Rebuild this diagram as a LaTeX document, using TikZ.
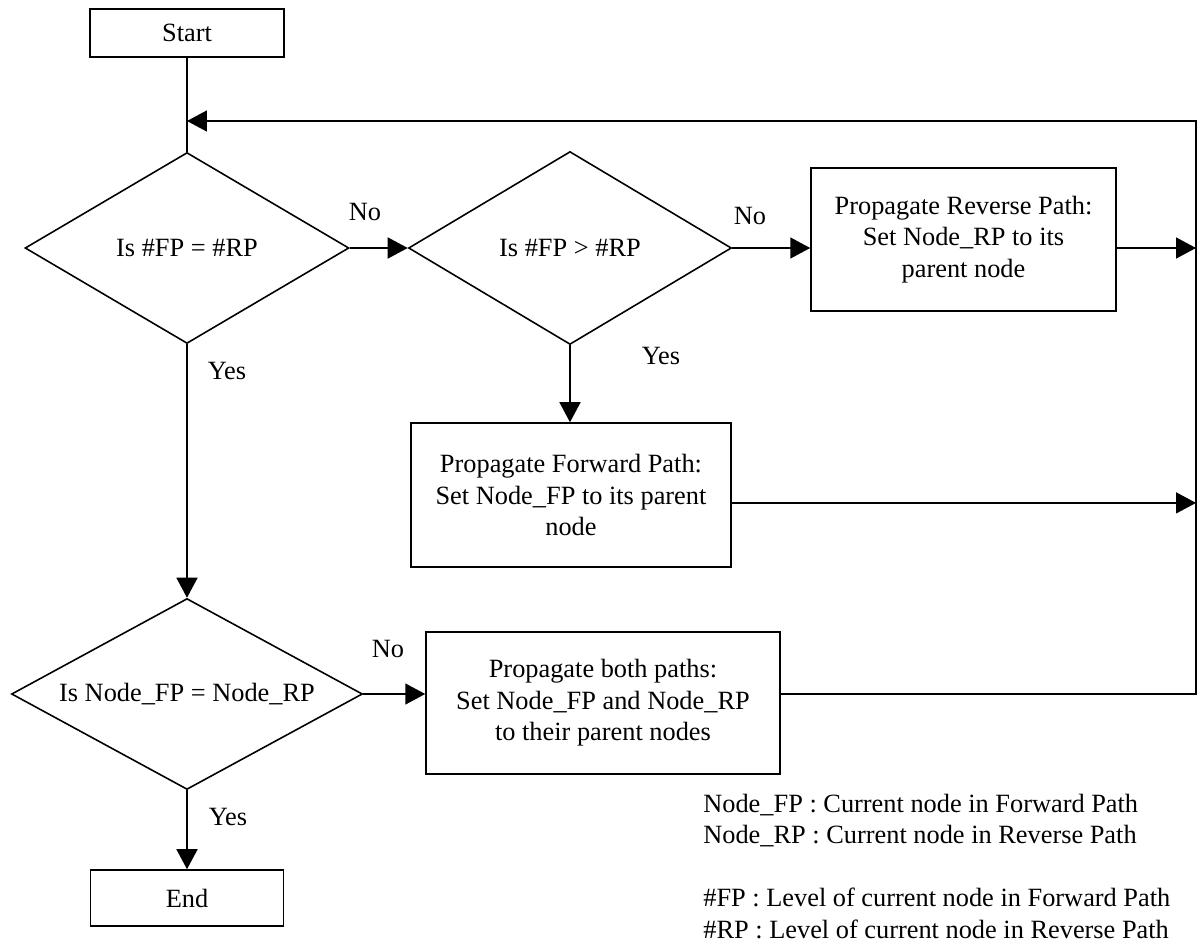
\documentclass[tikz,border=0pt]{standalone}
\usepackage{fontspec}
\setmainfont{Liberation Serif}
\usetikzlibrary{shapes.geometric, arrows.meta, positioning, calc}
\tikzset{
  blk/.style  = {rectangle, draw=black, line width=0.9pt, align=center,
                 inner sep=2pt},
  dec/.style  = {diamond, draw=black, line width=0.9pt, inner sep=0pt,
                 aspect=1},
  lbl/.style  = {inner sep=0pt},
  arr/.style  = {-{Triangle[length=0.4cm, width=0.42cm]}, line width=0.9pt},
  ln/.style   = {line width=0.9pt},
}

\begin{document}
\begin{tikzpicture}[x=0.02cm, y=-0.02cm,
    font=\fontsize{15}{17.9}\selectfont]

  \useasboundingbox (0,0) rectangle (1201,943);

  % -- main column
  \node[blk, minimum width=3.88cm, minimum height=0.96cm] (start) at (187,33)  {Start};
  \node[dec, minimum width=6.48cm, minimum height=3.82cm] (eqlvl) at (187,248)
       {\makebox[0pt]{Is \#FP = \#RP}};
  \node[dec, minimum width=7.02cm, minimum height=3.82cm] (eqnode) at (187,694)
       {\makebox[0pt]{Is Node\_FP = Node\_RP}};
  \node[blk, minimum width=3.86cm, minimum height=1.12cm] (stop) at (187,898) {End};

  % -- second column
  \node[dec, minimum width=6.46cm, minimum height=3.86cm] (gtlvl) at (570,248)
       {\makebox[0pt]{Is \#FP > \#RP}};
  \node[blk, minimum width=6.4cm, minimum height=2.88cm] (propfp) at (571,495)
       {Propagate Forward Path:\\ Set Node\_FP to its parent\\ node};
  \node[blk, minimum width=7.08cm, minimum height=2.84cm] (propboth) at (603,703)
       {Propagate both paths:\\ Set Node\_FP and Node\_RP\\ to their parent nodes};

  % -- third column
  \node[blk, minimum width=6.1cm, minimum height=2.86cm] (proprp) at (963.5,239.5)
       {Propagate Reverse Path:\\ Set Node\_RP to its\\ parent node};

  % -- return line corner
  \coordinate (loop) at (1196,121);

  % -- arrows
  \draw[ln]  (start) -- (eqlvl);
  \draw[arr] (eqlvl) -- (gtlvl);
  \draw[arr] (gtlvl.east) -- (gtlvl.east -| proprp.west);
  \draw[arr] (gtlvl) -- (gtlvl |- propfp.north);
  \draw[arr] (eqlvl) -- (eqnode);
  \draw[arr] (eqnode.east) -- (eqnode.east -| propboth.west);
  \draw[arr] (eqnode) -- (stop);

  % -- back to the top
  \draw[arr] (propboth.east |- eqnode.east) -| (loop) -- (loop -| start.south);
  \draw[arr] (proprp.east |- gtlvl.east) -- (gtlvl.east -| loop);
  \draw[arr] ([yshift=-4.5pt]propfp.east) -- ([yshift=-4.5pt]propfp.east -| loop);

  % -- branch labels
  \node[lbl] (no1)  at (365,212) {No};
  \node[lbl] (no2)  at (750,216) {No};
  \node[lbl] (yes2) at (661,356) {Yes};
  \node[lbl] (yes1) at (227,371) {Yes};
  \node[lbl] (no3)  at (388,649) {No};
  \node[lbl] (yes3) at (228,817) {Yes};

  % -- legend
  \node[lbl, anchor=base west, align=left] (legend) at (703,938)
       {Node\_FP : Current node in Forward Path\\
        Node\_RP : Current node in Reverse Path\\
        \mbox{}\\
        \#FP : Level of current node in Forward Path\\
        \#RP : Level of current node in Reverse Path};

\end{tikzpicture}
\end{document}
